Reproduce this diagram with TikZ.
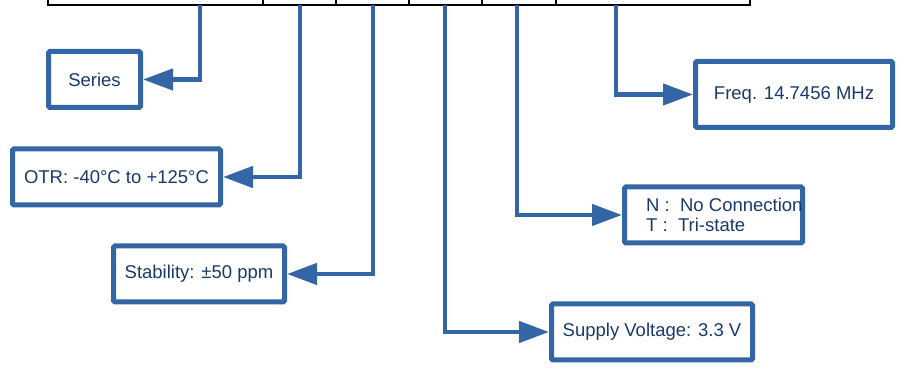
\documentclass[tikz,border=0pt]{standalone}
\usepackage{fontspec}
\setmainfont{Liberation Sans}
\usetikzlibrary{arrows.meta, positioning}
\definecolor{lineblue}{RGB}{52, 101, 164}
\definecolor{textblue}{RGB}{25, 58, 105}

\begin{document}
\begin{tikzpicture}[
    x=1pt, y=-1pt,
    infobox/.style={draw=lineblue, line width=5pt, rounded corners=1.5pt,
                    fill=white, minimum height=56pt, inner sep=0pt,
                    font=\fontsize{18.5}{20}\selectfont, text=textblue},
    txt/.style={font=\fontsize{18.5}{20}\selectfont, text=textblue,
                inner sep=0pt, align=left},
    cell/.style={draw=black, line width=1.3pt},
    arr/.style={-{Triangle[length=30pt, width=21pt]}, draw=lineblue,
                line width=4.5pt},
]
    \useasboundingbox (0,0) rectangle (908,379);
    \clip (0,0) rectangle (908,379);

    \draw[cell] (48,-20) rectangle (750,5);
    \foreach \xd in {263, 336, 409, 482, 556}
        \draw[cell] (\xd,-20) -- (\xd,5);

    \coordinate (pser) at (200,5);
    \coordinate (potr) at (300,5);
    \coordinate (pstab) at (373,5);
    \coordinate (pvolt) at (445,5);
    \coordinate (ptri) at (517,5);
    \coordinate (pfreq) at (616,5);

    \node[infobox, minimum width=92pt] (series) at (94.5,79.5) {Series};
    \node[infobox, minimum width=208pt] (otr) at (116.5,177) {OTR: -40°C to +125°C};
    \node[infobox, minimum width=171pt] (stab) at (199,274) {Stability: ±50 ppm};
    \node[infobox, minimum width=201pt] (volt) at (652,332) {Supply Voltage: 3.3 V};
    \node[infobox, minimum width=178pt] (tri) at (713.5,215) {};
    \node[txt, anchor=west] (trilabel) at (646,215) {N :\ \ No Connection\\T :\ \ Tri-state};
    \node[infobox, minimum width=197pt, minimum height=66pt] (freq) at (794,94.5) {Freq. 14.7456 MHz};

    \draw[arr] (pser) |- (series.east);
    \draw[arr] (potr) |- (otr.east);
    \draw[arr] (pstab) |- (stab.east);
    \draw[arr] (pvolt) |- (volt.west);
    \draw[arr] (ptri) |- (tri.west);
    \draw[arr] (pfreq) |- (freq.west);
\end{tikzpicture}
\end{document}
